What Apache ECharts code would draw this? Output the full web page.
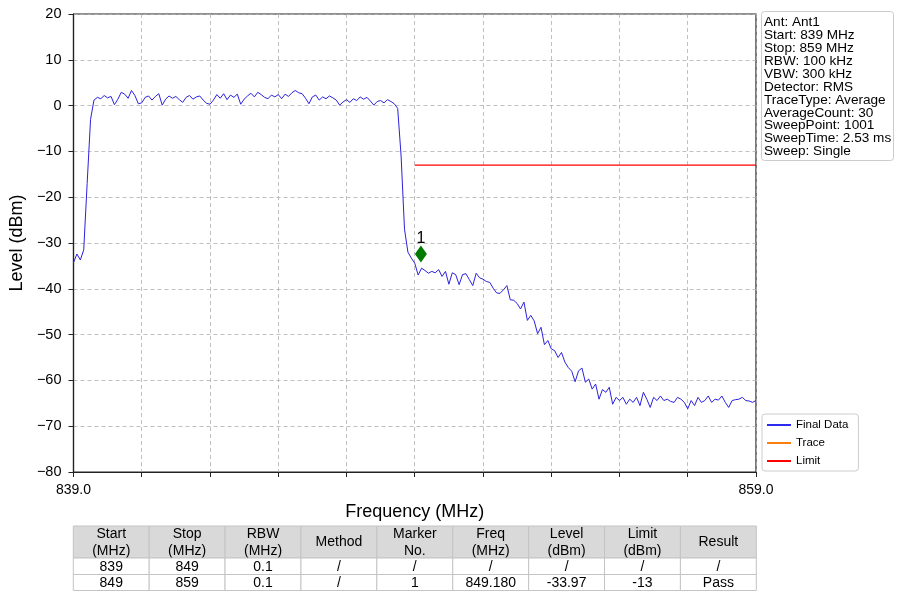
<!DOCTYPE html>
<html>
<head>
<meta charset="utf-8">
<script src="https://cdn.jsdelivr.net/npm/echarts@6/dist/echarts.min.js"></script>
<style>
html,body{margin:0;padding:0;background:#fff;}
#chart{width:897px;height:592px;}
</style>
</head>
<body>
<div id="chart"></div>
<script>
// Sweep definition
const freqStart = 839.0;
const freqStep = 0.1;
// Final Data trace levels (dBm), one per 0.1 MHz from 839.0 to 859.0
const level = [
  -34.3, -32.4, -33.7, -31.5, -17.0, -3.0, 1.2, 1.8, 1.5, 2.2,
  1.7, 2.0, 0.2, 1.4, 2.9, 2.5, 1.6, 3.3, 2.2, 0.4,
  0.6, 1.8, 2.1, 1.2, 2.0, 2.6, 0.1, 1.4, 2.1, 1.6,
  2.0, 1.3, 0.7, 1.8, 2.2, 1.4, 1.9, 2.1, 1.2, 0.5,
  0.3, 1.2, 2.4, 1.6, 2.6, 1.3, 2.3, 1.8, 2.5, 0.3,
  1.4, 2.1, 2.7, 1.9, 2.9, 2.4, 1.8, 1.5, 2.3, 1.9,
  2.4, 1.5, 2.5, 2.0, 2.8, 3.3, 2.8, 2.6, 1.6, 0.4,
  1.9, 2.3, 1.2, 1.9, 1.5, 2.1, 1.7, 1.2, 0.1, 0.8,
  1.3, 0.7, 1.5, 1.1, 1.9, 1.4, 1.8, 1.0, 0.1, 0.9,
  1.1, 0.6, 1.3, 0.9, 0.4, -0.6, -11.0, -27.0, -32.0, -33.3,
  -34.4, -37.0, -35.5, -36.0, -36.6, -36.2, -36.5, -35.8, -37.3, -36.2,
  -39.0, -36.5, -36.9, -39.1, -36.9, -36.7, -38.0, -39.3, -36.6, -37.6,
  -37.9, -38.4, -38.6, -39.9, -40.9, -41.0, -40.2, -39.3, -42.4, -42.5,
  -43.2, -44.4, -42.9, -46.9, -45.8, -47.0, -49.8, -48.4, -52.2, -51.3,
  -53.1, -53.5, -55.0, -53.9, -56.0, -57.2, -58.0, -60.3, -57.9, -57.3,
  -60.4, -59.7, -61.9, -60.8, -64.1, -62.0, -62.6, -61.5, -65.2, -63.7,
  -64.4, -63.7, -65.2, -64.1, -64.8, -63.7, -65.5, -62.6, -64.1, -65.9,
  -63.7, -64.4, -63.4, -64.4, -64.1, -64.6, -64.8, -63.7, -64.1, -64.8,
  -66.2, -64.4, -65.5, -63.7, -64.8, -64.4, -63.4, -64.8, -64.1, -64.3,
  -63.4, -64.8, -65.9, -64.4, -64.2, -64.1, -63.7, -64.4, -64.5, -64.8,
  -64.4
];
const limitFreq = [849, 859];
const limitLevel = [-13, -13];
const markerFreq = [849.18];
const markerLevel = [-32.4];
const markerNames = ['1'];
const seriesNames = ['Final Data', 'Trace', 'Limit'];
const xLabelValues = [839, 859];
const infoLines = [
  'Ant: Ant1', 'Start: 839 MHz', 'Stop: 859 MHz', 'RBW: 100 kHz', 'VBW: 300 kHz',
  'Detector: RMS', 'TraceType: Average', 'AverageCount: 30', 'SweepPoint: 1001',
  'SweepTime: 2.53 ms', 'Sweep: Single'
];
const tableHeader = ['Start\n(MHz)', 'Stop\n(MHz)', 'RBW\n(MHz)', 'Method', 'Marker\nNo.', 'Freq\n(MHz)', 'Level\n(dBm)', 'Limit\n(dBm)', 'Result'];
const tableRow1 = ['839', '849', '0.1', '/', '/', '/', '/', '/', '/'];
const tableRow2 = ['849', '859', '0.1', '/', '1', '849.180', '-33.97', '-13', 'Pass'];

const FONT = '"Liberation Sans", Arial, Helvetica, sans-serif';
const traceData = level.map((v, i) => [+(freqStart + i * freqStep).toFixed(2), v]);
const limitData = limitFreq.map((f, i) => [f, limitLevel[i]]);
const markerData = markerFreq.map((f, i) => ({value: [f, markerLevel[i]], name: markerNames[i]}));

// table graphics
const tblX = 73.3, tblW = 683, colW = tblW / tableHeader.length;
const rowsY = [526, 558, 574.5], rowsH = [32, 16.5, 16];
const tableRows = [tableHeader, tableRow1, tableRow2];
const graphics = [];
tableRows.forEach((row, r) => {
  row.forEach((txt, c) => {
    graphics.push({
      type: 'rect',
      shape: {x: tblX + c * colW, y: rowsY[r], width: colW, height: rowsH[r]},
      style: {fill: r === 0 ? '#d9d9d9' : '#ffffff', stroke: '#c4c4c4', lineWidth: 1},
      silent: true
    });
    graphics.push({
      type: 'text',
      x: tblX + c * colW + colW / 2,
      y: rowsY[r] + rowsH[r] / 2 + 0.5,
      style: {
        text: txt, fill: '#000', font: '14px ' + FONT,
        textAlign: 'center', textVerticalAlign: 'middle', lineHeight: 17
      },
      silent: true
    });
  });
});

const chart = echarts.init(document.getElementById('chart'), null, {renderer: 'canvas'});
chart.setOption({
  animation: false,
  backgroundColor: '#fff',
  textStyle: {fontFamily: FONT},
  title: {
    text: infoLines.join('\n'),
    left: 761, top: 12,
    padding: [4, 3, 2, 3],
    backgroundColor: '#fff',
    borderColor: '#cccccc', borderWidth: 1, borderRadius: 3,
    textStyle: {fontSize: 13.6, fontWeight: 'normal', color: '#000', lineHeight: 12.9, fontFamily: FONT}
  },
  legend: {
    data: seriesNames,
    orient: 'vertical',
    left: 762, top: 414,
    padding: [5, 10, 4, 5],
    itemWidth: 24, itemHeight: 2, itemGap: 6,
    icon: 'rect',
    backgroundColor: '#fff',
    borderColor: '#cccccc', borderWidth: 1, borderRadius: 3,
    textStyle: {fontSize: 11.5, color: '#000', lineHeight: 12, fontFamily: FONT}
  },
  grid: {
    left: 73.3, right: 141, top: 14, bottom: 120,
    show: true, borderColor: '#222', borderWidth: 1.2, backgroundColor: 'transparent'
  },
  xAxis: {
    type: 'value', min: 839, max: 859, interval: 2,
    name: 'Frequency (MHz)', nameLocation: 'middle', nameGap: 31,
    nameTextStyle: {fontSize: 18, color: '#000', fontFamily: FONT},
    axisLine: {show: true, onZero: false, lineStyle: {color: '#222', width: 1.2}},
    axisTick: {show: true, inside: false, length: 5, lineStyle: {color: '#222', width: 1}},
    axisLabel: {
      fontSize: 14, color: '#000', margin: 11, fontFamily: FONT,
      formatter: v => (xLabelValues.indexOf(v) >= 0 ? v.toFixed(1) : '')
    },
    splitLine: {show: true, lineStyle: {color: '#b0b0b0', type: [4, 3], width: 0.8}}
  },
  yAxis: {
    type: 'value', min: -80, max: 20, interval: 10,
    name: 'Level (dBm)', nameLocation: 'middle', nameGap: 41,
    nameTextStyle: {fontSize: 18, color: '#000', fontFamily: FONT},
    axisLine: {show: true, onZero: false, lineStyle: {color: '#222', width: 1.2}},
    axisTick: {show: true, inside: false, length: 5, lineStyle: {color: '#222', width: 1}},
    axisLabel: {
      fontSize: 14.5, color: '#000', margin: 12, fontFamily: FONT,
      formatter: v => String(v).replace('-', '\u2212')
    },
    splitLine: {show: true, lineStyle: {color: '#b0b0b0', type: [4, 3], width: 0.8}}
  },
  series: [
    {
      name: seriesNames[0], type: 'line', data: traceData,
      showSymbol: false, symbol: 'none', smooth: false,
      lineStyle: {color: '#2c22dc', width: 1}, itemStyle: {color: '#2c2cf0'}, z: 3
    },
    {
      name: seriesNames[1], type: 'line', data: [],
      showSymbol: false, symbol: 'none',
      lineStyle: {color: '#ff7f0e', width: 1.2}, itemStyle: {color: '#ff7f0e'}
    },
    {
      name: seriesNames[2], type: 'line', data: limitData,
      showSymbol: false, symbol: 'none',
      lineStyle: {color: '#ff0000', width: 1.3}, itemStyle: {color: '#ff0000'}, z: 4
    },
    {
      name: 'Marker', type: 'scatter', data: markerData,
      symbol: 'diamond', symbolSize: [12, 17],
      itemStyle: {color: '#007a00', opacity: 1}, z: 5,
      label: {
        show: true, position: 'top', distance: -1,
        formatter: p => p.name, fontSize: 16, color: '#000', fontFamily: FONT
      }
    }
  ],
  graphic: graphics
});
</script>
</body>
</html>
